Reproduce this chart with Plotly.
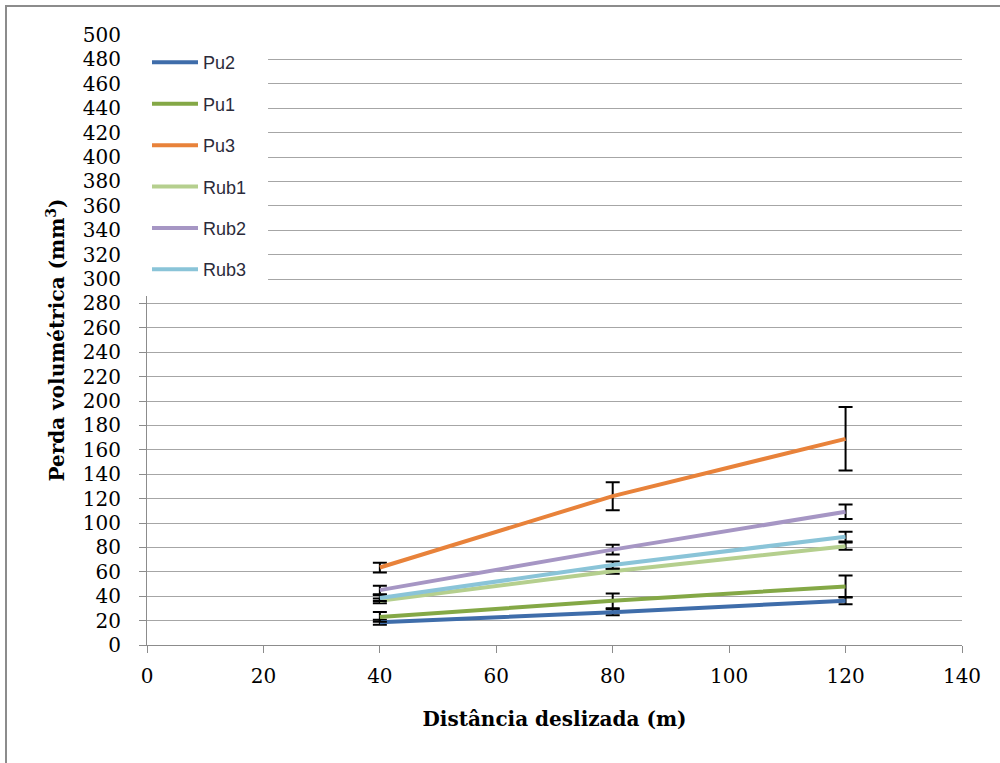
import plotly.graph_objects as go

# Sliding distance (m)
distance = [40, 80, 120]

# Volumetric loss (mm³) and standard deviation per material
series_names = ["Pu2", "Pu1", "Pu3", "Rub1", "Rub2", "Rub3"]
pu2 = [18.6, 26.8, 36.3]
pu1 = [23.0, 36.2, 48.0]
pu3 = [63.5, 122.0, 169.0]
rub1 = [36.2, 60.5, 81.0]
rub2 = [45.0, 78.2, 109.2]
rub3 = [38.5, 65.5, 88.8]

pu2_err = [2.0, 2.5, 3.0]
pu1_err = [4.0, 6.0, 9.0]
pu3_err = [4.0, 11.5, 26.0]
rub1_err = [2.0, 2.0, 3.0]
rub2_err = [3.5, 4.0, 6.0]
rub3_err = [2.5, 3.0, 4.0]

values = [pu2, pu1, pu3, rub1, rub2, rub3]
errors = [pu2_err, pu1_err, pu3_err, rub1_err, rub2_err, rub3_err]
colors = ["#3F6DAA", "#84A846", "#E8823A", "#B5CF8E", "#A696C4", "#8AC4D8"]

fig = go.Figure()
for i, (name, y, e, c) in enumerate(zip(series_names, values, errors, colors)):
    fig.add_trace(go.Scatter(
        x=distance, y=y, name=name, mode="lines",
        line=dict(color=c, width=4),
        error_y=dict(type="data", array=e, visible=True,
                     color="black", thickness=2, width=7),
        legendgroup=f"g{i}",
    ))

axis_grey = "#8C8C8C"
tick_font = dict(family="DejaVu Serif", size=20, color="black")

fig.update_layout(
    width=1000, height=763,
    margin=dict(l=147, r=38, t=35, b=118),
    paper_bgcolor="white", plot_bgcolor="white",
    showlegend=True,
    legend=dict(
        x=0.0, y=0.985, xanchor="left", yanchor="top",
        bgcolor="rgba(0,0,0,0)",
        font=dict(family="Liberation Sans", size=18, color="#2B2B3A"),
        tracegroupgap=15,
        itemwidth=46,
    ),
    xaxis=dict(
        range=[0, 140], dtick=20, tick0=0,
        showgrid=False, zeroline=False,
        showline=True, linecolor=axis_grey, linewidth=1,
        ticks="outside", ticklen=7, tickcolor=axis_grey,
        tickfont=tick_font, ticklabelstandoff=6,
        title=dict(text="<b>Distância deslizada (m)</b>",
                   font=dict(family="DejaVu Serif", size=20, color="black"),
                   standoff=24),
        automargin=False,
    ),
    yaxis=dict(
        range=[0, 500], dtick=20, tick0=0,
        showgrid=True, gridcolor="#A6A6A6", gridwidth=1, zeroline=False,
        showline=True, linecolor=axis_grey, linewidth=1,
        ticks="outside", ticklen=7, tickcolor=axis_grey,
        tickfont=tick_font, ticklabelstandoff=14,
        title=dict(text="<b>Perda volumétrica (mm<sup>3</sup>)</b>",
                   font=dict(family="DejaVu Serif", size=20, color="black"),
                   standoff=12),
        automargin=False,
    ),
    shapes=[
        # legend background panel
        dict(type="rect", xref="paper", yref="paper", layer="above",
             x0=-0.0098, x1=0.1485, y0=0.572, y1=1.015,
             fillcolor="white", line=dict(width=0)),
        # chart frame
        dict(type="rect", xref="paper", yref="paper", layer="above",
             x0=-0.173, x1=1.06, y0=-0.215, y1=1.0475,
             fillcolor="rgba(0,0,0,0)", line=dict(color=axis_grey, width=2)),
    ],
)

fig.write_html("out.html")
